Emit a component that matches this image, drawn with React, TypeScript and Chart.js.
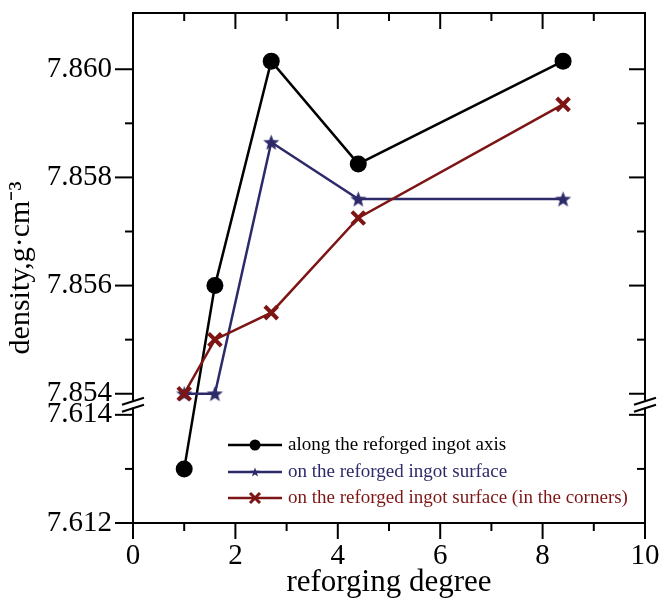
import React, { useEffect, useRef } from 'react';
import { Chart, registerables } from 'chart.js';

Chart.register(...registerables);

// ---- data ----
const X_VALUES = [1, 1.6, 2.7, 4.4, 8.4];
const AXIS_DENSITY = [7.613, 7.856, 7.86015, 7.85825, 7.86015];
const SURFACE_DENSITY = [7.854, 7.854, 7.85865, 7.8576, 7.8576];
const CORNER_DENSITY = [7.854, 7.855, 7.8555, 7.85725, 7.85935];
const SERIES_NAMES = [
  'along the reforged ingot axis',
  'on the reforged ingot surface',
  'on the reforged ingot surface (in the corners)',
];
const X_TICKS = [0, 2, 4, 6, 8, 10];
const X_MINOR_TICKS = [1, 3, 5, 7, 9];
const Y_TICKS = [7.612, 7.614, 7.854, 7.856, 7.858, 7.86];
const Y_TICK_LABELS = ['7.612', '7.614', '7.854', '7.856', '7.858', '7.860'];
const Y_MINOR_TICKS = [7.613, 7.855, 7.857, 7.859];
const X_TITLE = 'reforging degree';
const Y_TITLE = 'density,g·cm⁻³';

// broken axis: upper segment 7.854.., lower segment ..7.614
const Y_MIN = 7.612;
const Y_MAX = 7.86104;
const UPPER_BASE = 7.854;
const LOWER_TOP = 7.614;
const BREAK_GAP = 0.00039;
const toV = (v: number) => (v > 7.7 ? v - UPPER_BASE : v - LOWER_TOP - BREAK_GAP);

const FONT = "'Liberation Serif', 'Times New Roman', serif";
const BLACK = '#000000';
const BLUE = '#2d2a6a';
const RED = '#7e1515';

function makeStar(outer: number, color: string): HTMLCanvasElement {
  const size = Math.ceil(outer * 2 + 4);
  const c = document.createElement('canvas');
  c.width = size;
  c.height = size;
  const g = c.getContext('2d')!;
  const cx = size / 2;
  const cy = size / 2 + outer * 0.08;
  const inner = outer * 0.42;
  g.beginPath();
  for (let i = 0; i < 10; i++) {
    const r = i % 2 === 0 ? outer : inner;
    const a = -Math.PI / 2 + (i * Math.PI) / 5;
    const px = cx + r * Math.cos(a);
    const py = cy + r * Math.sin(a);
    if (i === 0) g.moveTo(px, py);
    else g.lineTo(px, py);
  }
  g.closePath();
  g.fillStyle = color;
  g.fill();
  return c;
}

const framePlugin = {
  id: 'frameAndBreak',
  afterDraw(chart: any) {
    const { ctx, chartArea, scales } = chart;
    const { left, right, top, bottom } = chartArea;
    const x = scales.x;
    const y = scales.y;
    const MAJOR = 16;
    const MINOR = 8;
    ctx.save();
    ctx.strokeStyle = '#000';
    ctx.lineWidth = 2;
    const line = (x1: number, y1: number, x2: number, y2: number) => {
      ctx.beginPath();
      ctx.moveTo(x1, y1);
      ctx.lineTo(x2, y2);
      ctx.stroke();
    };
    ctx.strokeRect(left, top, right - left, bottom - top);
    X_TICKS.forEach((v) => {
      const px = x.getPixelForValue(v);
      line(px, bottom, px, bottom + MAJOR);
      line(px, top, px, top + MAJOR);
    });
    X_MINOR_TICKS.forEach((v) => {
      const px = x.getPixelForValue(v);
      line(px, bottom, px, bottom + MINOR);
      line(px, top, px, top + MINOR);
    });
    Y_TICKS.forEach((v) => {
      const py = y.getPixelForValue(toV(v));
      line(left - MAJOR - 2, py, left, py);
      line(right - MAJOR, py, right, py);
    });
    Y_MINOR_TICKS.forEach((v) => {
      const py = y.getPixelForValue(toV(v));
      line(left - MINOR, py, left, py);
      line(right - MINOR, py, right, py);
    });
    // break marks
    const y1 = y.getPixelForValue(toV(UPPER_BASE));
    const y2 = y.getPixelForValue(toV(LOWER_TOP));
    const mid = (y1 + y2) / 2;
    [left, right].forEach((ax) => {
      ctx.fillStyle = '#fff';
      ctx.fillRect(ax - 2, mid - 3.5, 4, 7);
      line(ax - 11, mid + 0.5, ax + 11, mid - 6.5);
      line(ax - 11, mid + 7.5, ax + 11, mid + 0.5);
    });
    ctx.restore();
  },
};

const legendPlugin = {
  id: 'customLegend',
  afterDraw(chart: any) {
    const { ctx, chartArea } = chart;
    const { left, bottom } = chartArea;
    const colors = [BLACK, BLUE, RED];
    const x0 = left + 95;
    const x1 = left + 149;
    const tx = left + 155;
    const rows = [bottom - 78, bottom - 51, bottom - 25];
    ctx.save();
    ctx.font = `19px ${FONT}`;
    ctx.textBaseline = 'middle';
    ctx.textAlign = 'left';
    SERIES_NAMES.forEach((name, i) => {
      const ry = rows[i];
      const col = colors[i];
      ctx.strokeStyle = col;
      ctx.lineWidth = 2.5;
      ctx.beginPath();
      ctx.moveTo(x0, ry);
      ctx.lineTo(x1, ry);
      ctx.stroke();
      const mx = (x0 + x1) / 2;
      if (i === 0) {
        ctx.fillStyle = col;
        ctx.beginPath();
        ctx.arc(mx, ry, 5.5, 0, Math.PI * 2);
        ctx.fill();
      } else if (i === 1) {
        const s = makeStar(5, col);
        ctx.drawImage(s, mx - s.width / 2, ry - s.height / 2);
      } else {
        ctx.lineWidth = 3;
        ctx.beginPath();
        ctx.moveTo(mx - 5, ry - 5);
        ctx.lineTo(mx + 5, ry + 5);
        ctx.moveTo(mx + 5, ry - 5);
        ctx.lineTo(mx - 5, ry + 5);
        ctx.stroke();
      }
      ctx.fillStyle = col;
      ctx.fillText(name, tx, ry);
    });
    ctx.restore();
  },
};

export default function App() {
  const ref = useRef<HTMLCanvasElement | null>(null);
  useEffect(() => {
    if (!ref.current) return;
    const mk = (vals: number[]) => X_VALUES.map((xv, i) => ({ x: xv, y: toV(vals[i]) }));
    const star = makeStar(8.5, BLUE);
    const chart = new Chart(ref.current, {
      type: 'line',
      data: {
        datasets: [
          {
            label: SERIES_NAMES[0],
            data: mk(AXIS_DENSITY),
            borderColor: BLACK,
            backgroundColor: BLACK,
            borderWidth: 2.5,
            pointStyle: 'circle',
            pointRadius: 8.5,
            pointBackgroundColor: BLACK,
            pointBorderColor: BLACK,
            pointBorderWidth: 0,
            tension: 0,
            order: 3,
          },
          {
            label: SERIES_NAMES[1],
            data: mk(SURFACE_DENSITY),
            borderColor: BLUE,
            backgroundColor: BLUE,
            borderWidth: 2.5,
            pointStyle: star as any,
            pointRadius: 8,
            tension: 0,
            order: 2,
          },
          {
            label: SERIES_NAMES[2],
            data: mk(CORNER_DENSITY),
            borderColor: RED,
            backgroundColor: RED,
            borderWidth: 2.5,
            pointStyle: 'crossRot',
            pointRadius: 9,
            pointBorderWidth: 4,
            pointBorderColor: RED,
            tension: 0,
            order: 1,
          },
        ],
      },
      options: {
        animation: false,
        responsive: false,
        devicePixelRatio: 1,
        layout: { padding: { top: 12, right: 17, left: 0, bottom: 0 } },
        plugins: { legend: { display: false }, tooltip: { enabled: false } },
        scales: {
          x: {
            type: 'linear',
            min: 0,
            max: 10,
            afterBuildTicks: (s: any) => {
              s.ticks = X_TICKS.map((v) => ({ value: v }));
            },
            afterFit: (s: any) => {
              s.height = 78;
              s.paddingLeft = 0;
              s.paddingRight = 0;
            },
            grid: { display: false, drawTicks: false },
            border: { display: false },
            ticks: {
              padding: 16,
              color: '#000',
              font: { family: FONT, size: 29 },
              callback: (v: any) => String(v),
            },
            title: {
              display: true,
              text: X_TITLE,
              color: '#000',
              font: { family: FONT, size: 31 },
              padding: { top: 0, bottom: 0 },
            },
          },
          y: {
            type: 'linear',
            min: toV(Y_MIN),
            max: toV(Y_MAX),
            afterBuildTicks: (s: any) => {
              s.ticks = Y_TICKS.map((v) => ({ value: toV(v) }));
            },
            afterFit: (s: any) => {
              s.width = 133;
              s.paddingTop = 0;
              s.paddingBottom = 0;
            },
            grid: { display: false, drawTicks: false },
            border: { display: false },
            ticks: {
              autoSkip: false,
              padding: 21,
              color: '#000',
              font: { family: FONT, size: 29 },
              callback: (_v: any, i: number) => Y_TICK_LABELS[i],
            },
            title: {
              display: true,
              text: Y_TITLE,
              color: '#000',
              font: { family: FONT, size: 30 },
              padding: { top: 3, bottom: 0 },
            },
          },
        },
      },
      plugins: [framePlugin, legendPlugin],
    });
    return () => chart.destroy();
  }, []);
  return (
    <canvas
      ref={ref}
      width={662}
      height={601}
      style={{ position: 'fixed', left: 0, top: 0, width: 662, height: 601, display: 'block', background: '#fff' }}
    />
  );
}
